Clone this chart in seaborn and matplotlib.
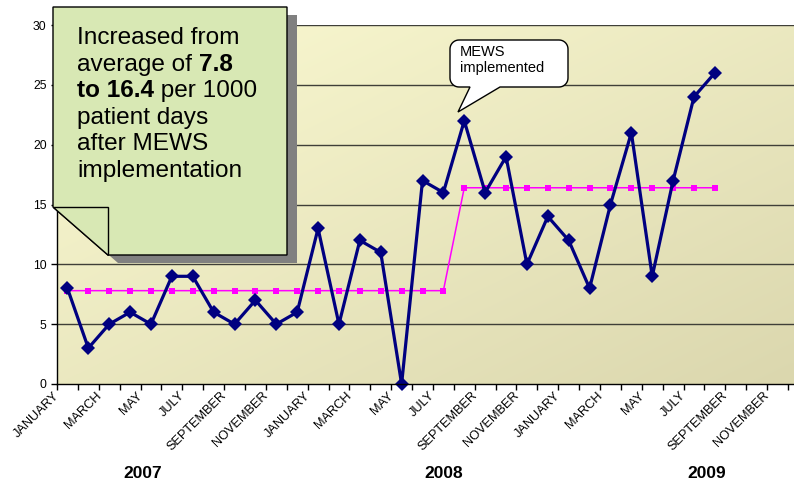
import numpy as np
import pandas as pd
import matplotlib
matplotlib.use("Agg")
import matplotlib.pyplot as plt
import matplotlib.transforms as mtransforms
from matplotlib.patches import Polygon
import seaborn as sns

# ---- data -------------------------------------------------------------
month_names = ["JANUARY", "FEBRUARY", "MARCH", "APRIL", "MAY", "JUNE",
               "JULY", "AUGUST", "SEPTEMBER", "OCTOBER", "NOVEMBER", "DECEMBER"]
n_months = 35                      # Jan 2007 .. Nov 2009
years = ["2007", "2008", "2009"]
year_label_pos = [3.6, 18.0, 30.6]

# rate per 1000 patient days, Jan 2007 .. Aug 2009
rate = [8, 3, 5, 6, 5, 9, 9, 6, 5, 7, 5, 6,
        13, 5, 12, 11, 0, 17, 16, 22, 16, 19, 10, 14,
        12, 8, 15, 21, 9, 17, 24, 26]
# period averages (before / after MEWS)
average = [7.8, 7.8, 7.8, 7.8, 7.8, 7.8, 7.8, 7.8, 7.8, 7.8, 7.8, 7.8,
           7.8, 7.8, 7.8, 7.8, 7.8, 7.8, 7.8,
           16.4, 16.4, 16.4, 16.4, 16.4, 16.4, 16.4, 16.4, 16.4, 16.4,
           16.4, 16.4, 16.4]
y_ticks = [0, 5, 10, 15, 20, 25, 30]

month_labels = [month_names[i % 12] for i in range(n_months)]
df_rate = pd.DataFrame({"month": np.arange(len(rate)), "value": rate})
df_avg = pd.DataFrame({"month": np.arange(len(average)), "value": average})

# ---- figure -----------------------------------------------------------
sns.set_style("white")
plt.rcParams["font.family"] = ["Liberation Sans", "DejaVu Sans"]
plt.rcParams["text.color"] = "black"
plt.rcParams["xtick.color"] = "black"
plt.rcParams["ytick.color"] = "black"
plt.rcParams["xtick.labelcolor"] = "black"
plt.rcParams["ytick.labelcolor"] = "black"

W, H = 794, 484
fig = plt.figure(figsize=(W / 100, H / 100), dpi=100)
fig.patch.set_facecolor("white")


def px(x, y):
    """pixel position (origin top-left) -> figure fraction"""
    return (x / W, 1 - y / H)


left, right, top, bottom = 57, 794, 25, 384
ax = fig.add_axes([left / W, 1 - bottom / H, (right - left) / W, (bottom - top) / H])
cat_w = (788 - 57) / n_months
ax.set_xlim(-0.5, n_months - 0.5 + (right - 788) / cat_w)
ax.set_ylim(0, 30)

# diagonal gradient background of the plot area (light top-left)
gx, gy = np.meshgrid(np.linspace(0, 1, 200), np.linspace(0, 1, 200))
t = (gx + gy) / 2
c0 = np.array([251, 250, 210]) / 255
c1 = np.array([219, 215, 174]) / 255
grad = c0[None, None, :] * (1 - t[..., None]) + c1[None, None, :] * t[..., None]
ax.imshow(grad, extent=[0, 1, 0, 1], transform=ax.transAxes, origin="upper",
          aspect="auto", zorder=0, interpolation="bilinear")
ax.set_facecolor("none")

# horizontal gridlines
for yv in y_ticks[1:]:
    ax.axhline(yv, color="#3f3f38", lw=1.0, zorder=1)

sns.lineplot(data=df_avg, x="month", y="value", ax=ax, color="#ff00ff",
             lw=1.1, marker="s", markersize=5, markeredgewidth=0,
             zorder=3)
sns.lineplot(data=df_rate, x="month", y="value", ax=ax, color="#000080",
             lw=2.3, marker="D", markersize=6.8, markeredgewidth=0,
             zorder=4, clip_on=False)

ax.set_xlabel("")
ax.set_ylabel("")
for s in ["top", "right"]:
    ax.spines[s].set_visible(False)
for s in ["left", "bottom"]:
    ax.spines[s].set_visible(True)
    ax.spines[s].set_color("black")
    ax.spines[s].set_linewidth(1.0)
    ax.spines[s].set_zorder(5)

ax.set_yticks(y_ticks)
ax.set_yticklabels([str(v) for v in y_ticks])
ax.tick_params(axis="y", direction="out", length=4, width=1, pad=3.5,
               labelsize=8.8, left=True, color="black")

ax.set_xticks(np.arange(-0.5, n_months, 1))
ax.set_xticklabels([])
ax.tick_params(axis="x", which="major", direction="out", length=4, width=1,
               bottom=True, color="black")
ax.set_xticks(np.arange(0, n_months, 2), minor=True)
ax.set_xticklabels(month_labels[::2], minor=True)
ax.tick_params(axis="x", which="minor", length=0, pad=7, labelsize=9.2)
shift = mtransforms.ScaledTranslation(-10 / 100, 0, fig.dpi_scale_trans)
for lab in ax.get_xticklabels(minor=True):
    lab.set_rotation(45)
    lab.set_ha("right")
    lab.set_va("center")
    lab.set_rotation_mode("anchor")
    lab.set_transform(lab.get_transform() + shift)

# year labels under the month labels
ytrans = mtransforms.blended_transform_factory(ax.transData, fig.transFigure)
for pos, yr in zip(year_label_pos, years):
    ax.text(pos, px(0, 474)[1], yr, transform=ytrans, ha="center",
            va="center", fontsize=12.5, fontweight="bold")

# ---- green note with folded corner -----------------------------------
note = [(53, 7), (287, 7), (287, 255), (108, 255), (53, 207)]
shadow = [(x + 10, y + 8) for x, y in note]
fig.patches.append(Polygon([px(*p) for p in shadow], closed=True,
                           transform=fig.transFigure, facecolor="#808080",
                           edgecolor="none", zorder=6))
fig.patches.append(Polygon([px(*p) for p in note], closed=True,
                           transform=fig.transFigure, facecolor="#d8e8b4",
                           edgecolor="black", lw=1.0, zorder=7))
fold = [(53, 207), (108, 207), (108, 255)]
fig.patches.append(Polygon([px(*p) for p in fold], closed=True,
                           transform=fig.transFigure, facecolor="#d8e8b4",
                           edgecolor="black", lw=1.0, zorder=8))

# each line is a list of (text, bold) runs placed one after another
note_lines = [[("Increased from", False)],
              [("average of ", False), ("7.8", True)],
              [("to 16.4", True), (" per 1000", False)],
              [("patient days", False)],
              [("after MEWS", False)],
              [("implementation", False)]]
note_size = 17.6
renderer = fig.canvas.get_renderer()


def run_width(s, bold):
    """advance width in pixels of a run, trailing/leading spaces included"""
    tmp = fig.text(0, 0, "|" + s + "|", fontsize=note_size,
                   fontweight="bold" if bold else "normal")
    bar = fig.text(0, 0, "||", fontsize=note_size,
                   fontweight="bold" if bold else "normal")
    w = tmp.get_window_extent(renderer).width - bar.get_window_extent(renderer).width
    tmp.remove()
    bar.remove()
    return w


for i, runs in enumerate(note_lines):
    x = 77.0
    y = 44 + i * 26.6
    for s, bold in runs:
        fig.text(*px(x, y), s, fontsize=note_size, va="baseline", ha="left",
                 fontweight="bold" if bold else "normal", zorder=9)
        x += run_width(s, bold)

# ---- speech bubble ----------------------------------------------------
bx0, bx1, by0, by1, r = 450, 568, 40, 87, 9
tail_l, tail_r, tip = 470, 500, (458, 112)


def arc(cx, cy, a0, a1):
    a = np.radians(np.linspace(a0, a1, 10))
    return [(cx + r * np.cos(v), cy + r * np.sin(v)) for v in a]


pts = []
pts += arc(bx0 + r, by0 + r, 180, 270)
pts += arc(bx1 - r, by0 + r, 270, 360)
pts += arc(bx1 - r, by1 - r, 0, 90)
pts += [(tail_r, by1), tip, (tail_l, by1)]
pts += arc(bx0 + r, by1 - r, 90, 180)
fig.patches.append(Polygon([px(*p) for p in pts], closed=True,
                           transform=fig.transFigure, facecolor="white",
                           edgecolor="black", lw=1.0, zorder=10))
fig.text(*px(460, 56), "MEWS", fontsize=10.5, va="baseline", zorder=11)
fig.text(*px(460, 72), "implemented", fontsize=10.5, va="baseline", zorder=11)

fig.savefig("out.png", dpi=100)
